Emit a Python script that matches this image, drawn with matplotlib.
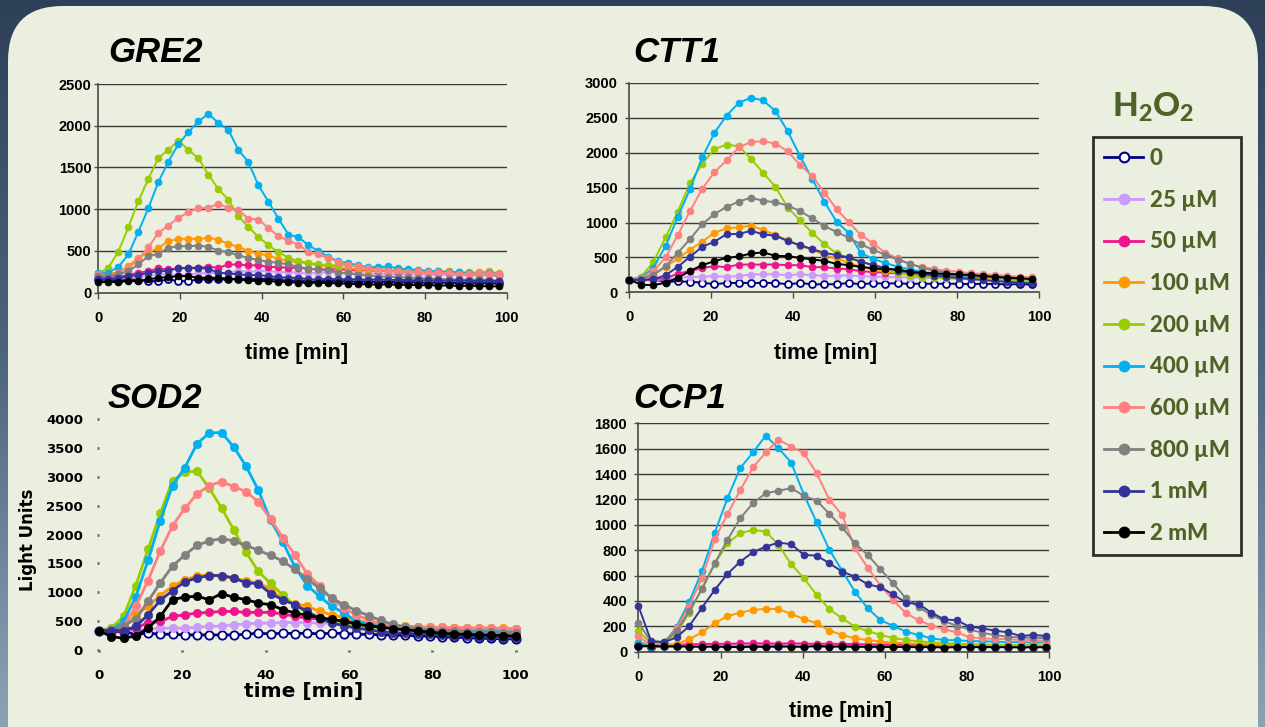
import matplotlib
matplotlib.use('Agg')
import matplotlib.pyplot as plt
import numpy as np
from matplotlib.lines import Line2D
from matplotlib.patches import FancyBboxPatch
from matplotlib.colors import LinearSegmentedColormap

plt.rcParams['mathtext.fontset'] = 'custom'
plt.rcParams['mathtext.rm'] = 'Lato'
plt.rcParams['mathtext.bf'] = 'Lato:black'

W, H = 1265, 727

labels = ['0', '25 µM', '50 µM', '100 µM', '200 µM', '400 µM', '600 µM', '800 µM', '1 mM', '2 mM']
colors = ['#000080', '#cc99ff', '#f0148c', '#ff9900', '#99cc00', '#00b0f0', '#ff8080', '#808080', '#333399', '#000000']

# sampling step (min) per gene
step_gre2, step_ctt1, step_sod2, step_ccp1 = 2.45, 2.975, 2.94, 3.1

# ---- GRE2 ----
gre2_0 = [159, 151, 139, 159, 151, 139, 139, 159, 139, 139, 159, 159, 159, 159, 167, 159, 167, 159, 159, 139, 151, 127, 139, 139, 139, 135, 131, 135, 127, 131, 123, 127, 123, 119, 123, 115, 119, 115, 111, 115, 111]
gre2_25 = [179, 167, 179, 179, 191, 199, 219, 219, 211, 219, 231, 239, 231, 239, 259, 247, 259, 259, 247, 247, 239, 231, 239, 247, 239, 235, 231, 227, 231, 223, 219, 223, 215, 219, 211, 215, 207, 211, 203, 207, 199]
gre2_50 = [199, 179, 191, 211, 239, 259, 291, 279, 291, 299, 299, 310, 299, 338, 338, 326, 330, 310, 306, 299, 299, 287, 279, 279, 279, 274, 266, 270, 258, 262, 250, 254, 242, 246, 238, 234, 238, 226, 230, 222, 218]
gre2_100 = [219, 231, 239, 318, 418, 478, 537, 617, 645, 645, 645, 657, 637, 585, 549, 498, 466, 446, 406, 378, 366, 350, 330, 318, 299, 290, 282, 274, 266, 262, 258, 254, 250, 254, 262, 254, 246, 242, 242, 254, 234]
gre2_200 = [231, 299, 490, 784, 1095, 1365, 1612, 1711, 1823, 1711, 1612, 1413, 1242, 1114, 915, 788, 669, 569, 486, 418, 378, 358, 338, 330, 326, 335, 314, 294, 286, 274, 266, 262, 254, 250, 242, 242, 234, 234, 226, 226, 222]
gre2_400 = [240, 240, 306, 458, 728, 1011, 1325, 1568, 1779, 1922, 2054, 2141, 2034, 1950, 1711, 1564, 1286, 1091, 888, 697, 665, 569, 498, 430, 375, 355, 326, 306, 306, 314, 290, 282, 270, 262, 255, 242, 246, 234, 234, 234, 226]
gre2_600 = [219, 199, 239, 299, 398, 545, 716, 804, 896, 963, 1015, 1015, 1067, 1015, 987, 888, 876, 776, 677, 625, 577, 486, 458, 418, 370, 334, 314, 294, 274, 262, 254, 246, 254, 242, 242, 234, 226, 226, 234, 226, 222]
gre2_800 = [199, 199, 219, 259, 338, 438, 466, 537, 557, 557, 565, 549, 505, 486, 446, 418, 390, 370, 358, 338, 310, 287, 279, 267, 239, 234, 214, 206, 193, 193, 185, 185, 173, 173, 165, 161, 161, 153, 161, 153, 145]
gre2_1m = [167, 159, 171, 199, 211, 239, 259, 259, 299, 291, 299, 287, 239, 231, 219, 211, 211, 199, 187, 179, 179, 159, 159, 167, 159, 163, 159, 155, 159, 151, 155, 151, 147, 151, 147, 143, 147, 143, 139, 143, 139]
gre2_2m = [127, 127, 131, 139, 139, 159, 179, 187, 199, 199, 179, 179, 179, 167, 159, 147, 139, 139, 131, 127, 119, 119, 119, 115, 111, 107, 103, 100, 96, 100, 92, 96, 88, 92, 84, 88, 80, 84, 80, 76, 76]

# ---- CTT1 ----
ctt1_0 = [182, 197, 187, 149, 158, 149, 139, 115, 134, 134, 134, 134, 134, 115, 134, 115, 115, 115, 134, 115, 130, 125, 130, 120, 125, 120, 125, 120, 118, 122, 118, 115, 115, 112]
ctt1_25 = [182, 173, 173, 187, 206, 221, 221, 235, 221, 235, 254, 259, 259, 245, 259, 245, 235, 235, 245, 230, 225, 220, 215, 212, 208, 205, 200, 198, 195, 192, 190, 188, 185, 182]
ctt1_50 = [182, 173, 197, 197, 269, 302, 350, 374, 360, 398, 398, 398, 398, 389, 389, 360, 360, 341, 331, 302, 290, 280, 270, 260, 250, 240, 235, 225, 220, 215, 210, 205, 200, 195]
ctt1_100 = [182, 173, 245, 365, 485, 610, 725, 854, 917, 931, 955, 893, 821, 749, 662, 614, 533, 485, 422, 365, 330, 300, 280, 262, 240, 230, 215, 210, 200, 195, 190, 185, 180, 178]
ctt1_200 = [182, 221, 437, 787, 1157, 1565, 1843, 2054, 2117, 2093, 1915, 1709, 1512, 1214, 1037, 854, 691, 557, 494, 437, 390, 319, 271, 248, 224, 214, 200, 200, 190, 186, 176, 176, 167, 162]
ctt1_400 = [182, 206, 355, 662, 1085, 1478, 1934, 2285, 2534, 2717, 2789, 2750, 2597, 2309, 1958, 1627, 1301, 1013, 852, 560, 480, 420, 367, 330, 295, 271, 248, 233, 214, 233, 214, 200, 195, 186]
ctt1_600 = [182, 206, 307, 499, 821, 1166, 1483, 1723, 1891, 2078, 2155, 2165, 2131, 2021, 1829, 1670, 1430, 1195, 1003, 821, 700, 566, 486, 400, 367, 333, 309, 295, 271, 262, 248, 238, 224, 214]
ctt1_800 = [182, 197, 254, 374, 566, 763, 974, 1123, 1224, 1301, 1358, 1310, 1291, 1243, 1166, 1061, 950, 864, 782, 686, 610, 540, 470, 410, 350, 310, 280, 255, 240, 228, 215, 205, 195, 185]
ctt1_1m = [182, 173, 187, 245, 365, 509, 653, 725, 835, 835, 883, 830, 811, 734, 677, 619, 566, 533, 499, 437, 390, 350, 310, 285, 260, 240, 220, 205, 190, 175, 160, 150, 140, 128]
ctt1_2m = [182, 110, 101, 139, 206, 307, 389, 446, 494, 514, 557, 571, 523, 518, 494, 470, 451, 408, 389, 365, 343, 333, 328, 295, 281, 271, 262, 257, 248, 233, 224, 209, 200, 190]

# ---- SOD2 ----
sod2_0 = [337, 320, 320, 273, 291, 273, 273, 261, 261, 261, 261, 261, 273, 291, 279, 291, 285, 291, 279, 291, 285, 275, 270, 265, 260, 255, 245, 240, 230, 220, 215, 205, 200, 195, 190]
sod2_25 = [337, 349, 360, 349, 360, 378, 378, 378, 395, 407, 418, 436, 453, 465, 465, 476, 476, 476, 465, 465, 455, 445, 430, 420, 410, 400, 395, 390, 385, 380, 380, 375, 370, 365, 360]
sod2_50 = [337, 320, 337, 378, 476, 494, 581, 610, 639, 651, 668, 668, 651, 651, 651, 627, 581, 552, 540, 523, 500, 480, 460, 440, 420, 405, 395, 385, 380, 375, 370, 365, 360, 360, 355]
sod2_100 = [337, 360, 378, 610, 755, 941, 1104, 1220, 1278, 1307, 1267, 1249, 1191, 1162, 1057, 872, 802, 755, 668, 610, 560, 510, 475, 445, 420, 410, 400, 395, 390, 385, 385, 380, 380, 375, 370]
sod2_200 = [337, 378, 581, 1116, 1743, 2365, 2934, 3079, 3097, 2800, 2460, 2079, 1693, 1363, 1153, 954, 772, 640, 560, 490, 450, 420, 400, 385, 375, 370, 365, 360, 355, 350, 350, 345, 345, 340, 335]
sod2_400 = [337, 349, 494, 918, 1551, 2237, 2847, 3155, 3573, 3759, 3765, 3515, 3184, 2771, 2248, 1871, 1435, 1116, 930, 755, 642, 500, 443, 415, 386, 386, 375, 358, 358, 346, 352, 346, 341, 341, 330]
sod2_600 = [337, 349, 407, 755, 1203, 1714, 2150, 2452, 2702, 2847, 2917, 2829, 2742, 2568, 2266, 1946, 1640, 1320, 1113, 886, 727, 602, 528, 443, 415, 398, 386, 386, 390, 386, 375, 375, 380, 358, 360]
sod2_800 = [337, 349, 418, 535, 842, 1162, 1453, 1644, 1813, 1888, 1929, 1888, 1813, 1726, 1639, 1540, 1394, 1232, 1068, 897, 784, 682, 596, 511, 443, 400, 370, 350, 335, 325, 318, 310, 305, 300, 295]
sod2_1m = [337, 337, 337, 407, 610, 860, 1028, 1179, 1249, 1290, 1290, 1249, 1162, 1150, 976, 872, 784, 668, 552, 465, 420, 380, 350, 320, 300, 290, 280, 270, 255, 245, 240, 230, 220, 210, 205]
sod2_2m = [337, 232, 203, 244, 378, 581, 872, 918, 930, 872, 976, 912, 872, 814, 784, 700, 640, 600, 560, 530, 500, 450, 420, 395, 370, 350, 330, 310, 290, 280, 270, 265, 255, 250, 245]

# ---- CCP1 ----
ccp1_0 = [45, 40, 42, 44, 45, 45, 44, 43, 45, 44, 42, 43, 44, 45, 43, 42, 43, 41, 42, 40, 41, 40, 39, 40, 38, 39, 38, 37, 38, 37, 36, 37, 36]
ccp1_25 = [60, 45, 48, 50, 50, 52, 52, 53, 54, 55, 54, 53, 52, 52, 50, 50, 49, 48, 47, 46, 45, 44, 43, 42, 41, 40, 40, 39, 38, 38, 37, 37, 36]
ccp1_50 = [70, 50, 50, 55, 58, 60, 62, 62, 65, 66, 65, 64, 66, 64, 62, 63, 61, 60, 58, 57, 55, 54, 53, 52, 50, 48, 47, 46, 45, 44, 44, 43, 42]
ccp1_100 = [74, 53, 58, 60, 97, 153, 224, 281, 308, 329, 337, 337, 297, 258, 224, 166, 132, 105, 92, 79, 72, 66, 62, 58, 55, 53, 52, 50, 50, 48, 48, 47, 46]
ccp1_200 = [163, 66, 71, 145, 308, 500, 692, 855, 934, 960, 947, 842, 689, 579, 447, 334, 263, 197, 163, 132, 108, 92, 82, 74, 68, 64, 60, 58, 55, 55, 53, 52, 50]
ccp1_400 = [71, 39, 60, 197, 395, 636, 939, 1210, 1447, 1570, 1702, 1604, 1491, 1236, 1020, 802, 639, 473, 342, 250, 203, 158, 132, 105, 92, 90, 84, 82, 79, 76, 76, 71, 74]
ccp1_600 = [126, 45, 53, 184, 360, 584, 886, 1084, 1273, 1452, 1570, 1670, 1617, 1565, 1407, 1197, 1078, 815, 663, 521, 408, 302, 250, 205, 176, 153, 113, 105, 100, 100, 92, 92, 87]
ccp1_800 = [229, 79, 79, 163, 321, 492, 697, 881, 1052, 1170, 1249, 1268, 1289, 1228, 1191, 1086, 981, 855, 763, 650, 539, 421, 350, 290, 240, 205, 175, 150, 130, 118, 112, 110, 108]
ccp1_1m = [363, 84, 74, 113, 202, 347, 487, 613, 710, 784, 828, 860, 847, 763, 757, 697, 631, 592, 531, 508, 452, 386, 376, 308, 255, 247, 197, 184, 166, 153, 124, 132, 124]
ccp1_2m = [45, 45, 42, 42, 40, 38, 40, 38, 36, 40, 38, 42, 40, 38, 45, 40, 42, 40, 38, 40, 36, 38, 35, 37, 33, 36, 35, 37, 35, 36, 34, 35, 36]

gre2 = [gre2_0, gre2_25, gre2_50, gre2_100, gre2_200, gre2_400, gre2_600, gre2_800, gre2_1m, gre2_2m]
ctt1 = [ctt1_0, ctt1_25, ctt1_50, ctt1_100, ctt1_200, ctt1_400, ctt1_600, ctt1_800, ctt1_1m, ctt1_2m]
sod2 = [sod2_0, sod2_25, sod2_50, sod2_100, sod2_200, sod2_400, sod2_600, sod2_800, sod2_1m, sod2_2m]
ccp1 = [ccp1_0, ccp1_25, ccp1_50, ccp1_100, ccp1_200, ccp1_400, ccp1_600, ccp1_800, ccp1_1m, ccp1_2m]

olive = '#4f6228'
tick_font = dict(family=['Liberation Sans', 'DejaVu Sans'], weight='bold')
title_font = dict(family=['Liberation Sans', 'DejaVu Sans'], weight='bold', style='italic', size=25)


def fx(px):
    return px / W


def fy(py):
    return 1 - py / H


fig = plt.figure(figsize=(W / 100, H / 100), dpi=100)

# background: slate gradient + cream rounded panel
bg = fig.add_axes([0, 0, 1, 1], zorder=-10)
grad = np.linspace(0, 1, 256).reshape(-1, 1)
cmap = LinearSegmentedColormap.from_list('bg', ['#2e4058', '#4d6680', '#8ea2b5'])
bg.imshow(grad, extent=[0, W, H, 0], cmap=cmap, aspect='auto')
bg.add_patch(FancyBboxPatch((8, 6), 1250, 780, boxstyle='round,pad=0,rounding_size=55',
                            fc='#ebefdf', ec='none'))
bg.set_xlim(0, W)
bg.set_ylim(H, 0)
bg.axis('off')


def panel(box, data, step, ymax, ystep, ypad, title, title_pos, xlab_pos, sod=False):
    l, t, r, b = box
    ax = fig.add_axes([fx(l), fy(b), (r - l) / W, (b - t) / H])
    ax.patch.set_alpha(0)
    ms = 6 if sod else 5
    lw = 2.0 if sod else 1.4
    for vals, c, i in zip(data, colors, range(10)):
        tt = np.arange(len(vals)) * step
        ax.plot(tt, vals, color=c, lw=lw, marker='o', ms=ms,
                mfc='white' if i == 0 else c, mec=c, mew=1.3 if i == 0 else 0.5,
                clip_on=False, zorder=3)
    ax.set_xlim(0, 100)
    ax.set_ylim(0, ymax)
    ax.set_xticks(range(0, 101, 20))
    ax.set_yticks(range(0, ymax + 1, ystep))
    for s in ['top', 'right']:
        ax.spines[s].set_visible(False)
    if sod:
        font = dict(family=['DejaVu Sans'], weight='bold')
        for s in ['left', 'bottom']:
            ax.spines[s].set_visible(False)
        ax.tick_params(axis='both', length=1.5, width=2, color='#666666', labelsize=9.5)
        ax.tick_params(axis='x', pad=12)
        ax.tick_params(axis='y', pad=ypad)
        xl_font = dict(family=['DejaVu Sans'], weight='bold', size=14.5)
    else:
        font = tick_font
        for s in ['left', 'bottom']:
            ax.spines[s].set_color('#4a4a4a')
            ax.spines[s].set_linewidth(1.2)
        ax.yaxis.grid(True, color='#3a3a3a', lw=1)
        ax.set_axisbelow(True)
        ax.tick_params(axis='x', length=4, width=1, color='#4a4a4a', pad=9, labelsize=10.5)
        ax.tick_params(axis='y', length=3, width=1, color='#4a4a4a', pad=ypad, labelsize=10.5)
        xl_font = dict(family=['Liberation Sans', 'DejaVu Sans'], weight='bold', size=15.5)
    for lab in ax.get_xticklabels() + ax.get_yticklabels():
        lab.set_fontfamily(font['family'])
        lab.set_fontweight('bold')
    fig.text(fx(xlab_pos[0]), fy(xlab_pos[1]), 'time [min]', ha='center', va='center', **xl_font)
    fig.text(fx(title_pos[0]), fy(title_pos[1]), title, ha='left', va='center', **title_font)
    return ax


panel((98.3, 84, 506.7, 292.7), gre2, step_gre2, 2500, 500, 2, 'GRE2', (108, 52), (297, 354))
panel((629, 83, 1039.3, 292.3), ctt1, step_ctt1, 3000, 500, 5, 'CTT1', (633, 52), (826, 354))
panel((99, 419, 515.7, 650), sod2, step_sod2, 4000, 500, 10, 'SOD2', (108, 398), (304, 692), sod=True)
panel((638.3, 423.3, 1049.3, 651.7), ccp1, step_ccp1, 1800, 200, 5, 'CCP1', (633, 398), (841, 712))

fig.text(fx(28), fy(540), 'Light Units', rotation=90, ha='center', va='center',
         family=['DejaVu Sans'], weight='bold', size=12)

# legend
handles = [Line2D([], [], color=c, lw=2, marker='o', ms=7,
                  mfc='white' if i == 0 else c, mec=c, mew=1.5)
           for i, c in enumerate(colors)]
leg = fig.legend(handles, labels, loc='upper left', bbox_to_anchor=(fx(1093), fy(137)),
                 frameon=True, fancybox=False, edgecolor='black', facecolor='#ebefdf',
                 prop=dict(family='Lato', weight='black', size=16),
                 labelspacing=0.93, handlelength=1.75, handletextpad=0.3,
                 borderpad=0.5, borderaxespad=0)
leg.get_frame().set_linewidth(2)
for txt in leg.get_texts():
    txt.set_color(olive)

fig.text(fx(1153), fy(107), r'$\mathbf{H_2O_2}$', ha='center', va='center', color=olive, size=24)

fig.savefig('out.png', dpi=100)
